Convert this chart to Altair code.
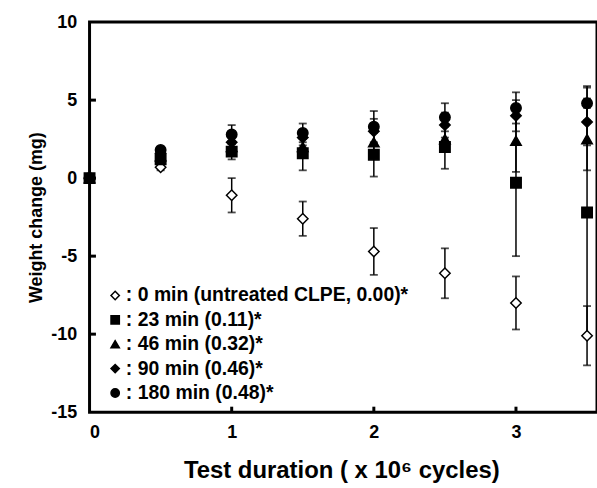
import altair as alt
import pandas as pd

# ---- data ----
x_vals = [0, 0.5, 1, 1.5, 2, 2.5, 3, 3.5]
series_names = [
    "0 min (untreated CLPE, 0.00)*",
    "23 min (0.11)*",
    "46 min (0.32)*",
    "90 min (0.46)*",
    "180 min (0.48)*",
]
y_0 = [None, 0.7, -1.1, -2.6, -4.7, -6.1, -8.0, -10.1]
e_0 = [None, 0.2, 1.1, 1.1, 1.5, 1.6, 1.7, 1.9]
y_23 = [0.0, 1.2, 1.7, 1.6, 1.5, 2.0, -0.3, -2.2]
e_23 = [0.0, 0.2, 0.5, 1.1, 1.4, 1.4, 4.7, 8.0]
y_46 = [0.0, 1.4, 2.0, 2.0, 2.3, 2.5, 2.4, 2.5]
e_46 = [0.0, 0.2, 0.4, 0.5, 0.8, 0.8, 2.0, 2.0]
y_90 = [0.0, 1.6, 2.3, 2.6, 3.0, 3.4, 4.0, 3.6]
e_90 = [0.0, 0.2, 0.5, 0.5, 0.8, 0.8, 1.0, 1.5]
y_180 = [0.0, 1.8, 2.8, 2.9, 3.3, 3.9, 4.5, 4.8]
e_180 = [0.0, 0.2, 0.6, 0.6, 1.0, 0.9, 1.0, 1.1]

shapes = ["diamond", "square", "triangle-up", "diamond", "circle"]
fills = ["white", "black", "black", "black", "black"]
strokes = ["black", "black", "black", "black", "black"]

y_ticks = [-15, -10, -5, 0, 5, 10]
x_ticks = [0, 1, 2, 3]

rows = []
for name, ys, es in zip(series_names, [y_0, y_23, y_46, y_90, y_180],
                        [e_0, e_23, e_46, e_90, e_180]):
    for x, y, e in zip(x_vals, ys, es):
        if y is None:
            continue
        rows.append({"series": name, "x": x, "y": y, "lo": y - e, "hi": y + e})
df = pd.DataFrame(rows)

FONT = "Liberation Sans"
XDOM = [0, 3.57]
YDOM = [-15, 10]

xs = alt.Scale(domain=XDOM, nice=False, zero=False)
ys_ = alt.Scale(domain=YDOM, nice=False, zero=False)

x_axis = alt.Axis(values=x_ticks, ticks=False, grid=False, domain=False,
                  labelExpr="'' + datum.value",
                  labelFont=FONT, labelFontSize=18, labelFontWeight="bold",
                  labelColor="black", labelPadding=11,
                  title="Test duration ( x 10\u2076 cycles)", titleFont=FONT,
                  titleFontSize=24, titleFontWeight="bold", titleColor="black",
                  titleX=253, titleY=47, titleBaseline="top", titleAlign="center")
y_axis = alt.Axis(values=y_ticks, ticks=False, grid=False, domain=False,
                  labelExpr="'' + datum.value",
                  labelFont=FONT, labelFontSize=18, labelFontWeight="bold",
                  labelColor="black", labelPadding=13,
                  title="Weight change (mg)", titleFont=FONT, titleFontSize=18,
                  titleFontWeight="bold", titleColor="black",
                  titleX=-53, titleY=196, titleBaseline="middle", titleAlign="center",
                  titleAngle=-90)

base = alt.Chart(df)

err_rule = base.mark_rule(color="black", strokeWidth=1.5).encode(
    x=alt.X("x:Q", scale=xs, axis=x_axis),
    y=alt.Y("lo:Q", scale=ys_, axis=y_axis),
    y2="hi:Q",
)
err_lo = base.mark_tick(color="black", orient="horizontal", size=8, thickness=1.8).encode(
    x=alt.X("x:Q", scale=xs), y=alt.Y("lo:Q", scale=ys_))
err_hi = base.mark_tick(color="black", orient="horizontal", size=8, thickness=1.8).encode(
    x=alt.X("x:Q", scale=xs), y=alt.Y("hi:Q", scale=ys_))

legend = alt.Legend(orient="none", legendX=16, legendY=265, title=None,
                    labelFont=FONT, labelFontSize=19.5, labelFontWeight="bold",
                    labelColor="black", labelExpr="': ' + datum.label",
                    symbolSize=70, symbolStrokeColor="black", symbolStrokeWidth=1.5,
                    rowPadding=3.5, labelOffset=1, labelLimit=0, padding=0)

points = base.mark_point(strokeWidth=1.5, opacity=1,
                         fillOpacity=1, size=110).encode(
    x=alt.X("x:Q", scale=xs),
    y=alt.Y("y:Q", scale=ys_),
    shape=alt.Shape("series:N", scale=alt.Scale(domain=series_names, range=shapes),
                    legend=legend),
    fill=alt.Fill("series:N", scale=alt.Scale(domain=series_names, range=fills),
                  legend=legend),
    stroke=alt.Stroke("series:N", scale=alt.Scale(domain=series_names, range=strokes),
                      legend=legend),
)

# inward axis ticks
ytick_df = pd.DataFrame({"t": [v for v in y_ticks if v not in YDOM]})
ytk = alt.Chart(ytick_df).mark_rule(color="black", strokeWidth=3).encode(
    y=alt.Y("t:Q", scale=ys_), x=alt.datum(0, scale=xs), x2=alt.datum(0.045))
xtick_df = pd.DataFrame({"t": [v for v in x_ticks if v != 0]})
xtk = alt.Chart(xtick_df).mark_rule(color="black", strokeWidth=3).encode(
    x=alt.X("t:Q", scale=xs), y=alt.datum(-15, scale=ys_), y2=alt.datum(-14.65))

chart = alt.layer(err_rule, err_lo, err_hi, ytk, xtk, points).properties(
    width=510, height=392,
    autosize=alt.AutoSizeParams(type="none"),
    padding={"left": 90, "top": 21, "right": 0, "bottom": 75},
    background="white",
).configure_view(stroke="black", strokeWidth=3)

chart.save("out.html", embed_options={"renderer": "svg", "actions": False})
